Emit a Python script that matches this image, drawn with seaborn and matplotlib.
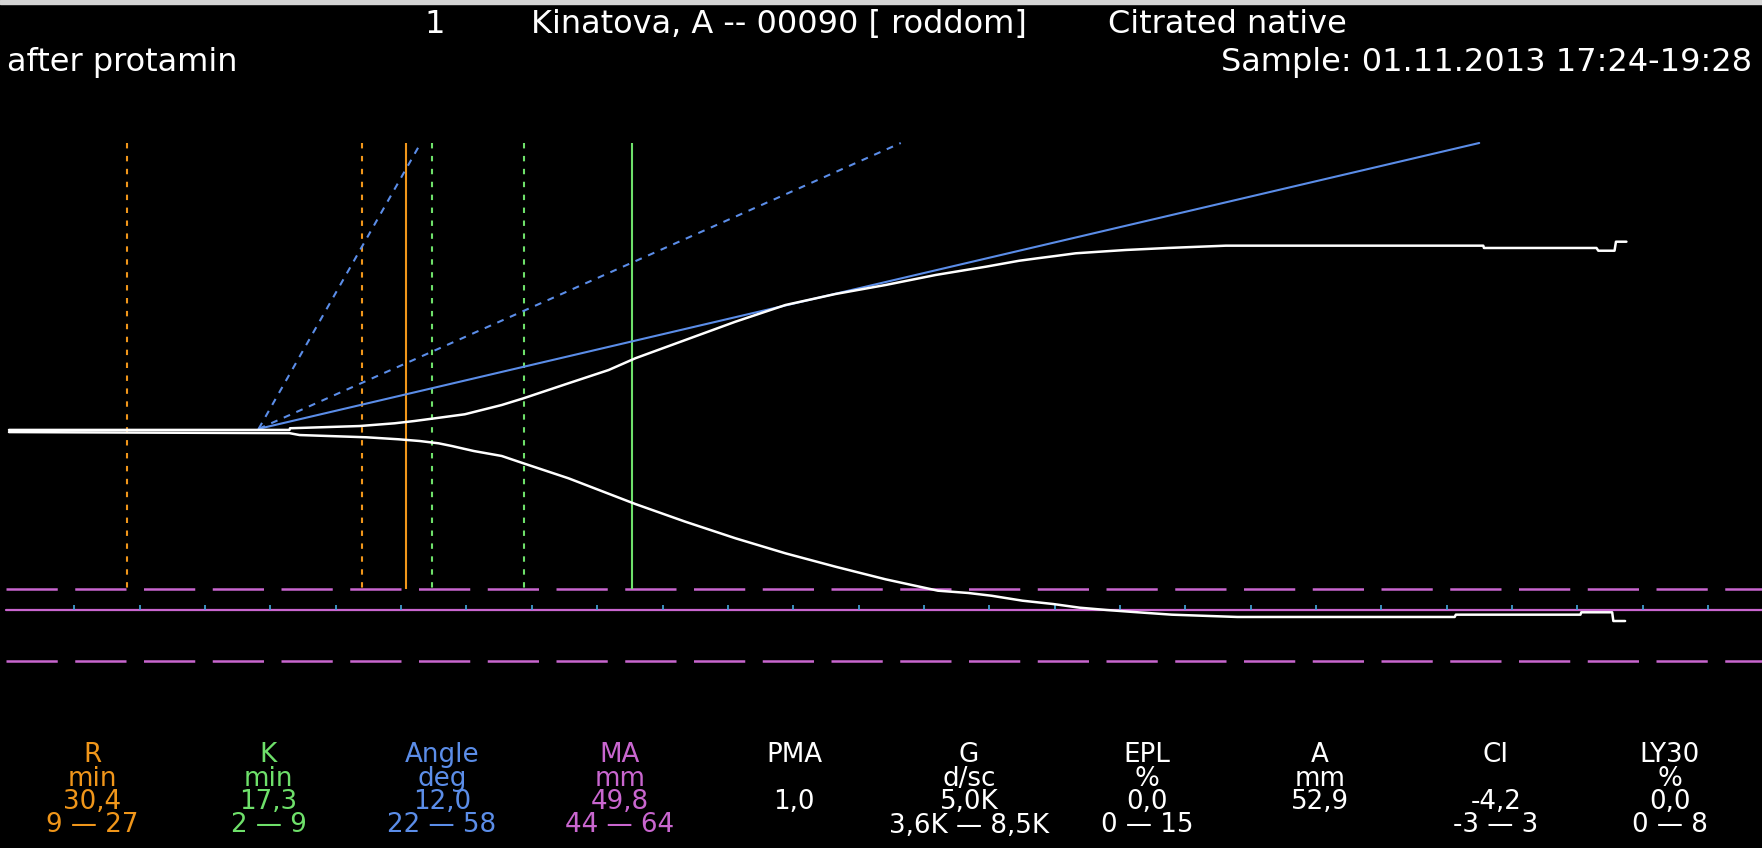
import numpy as np
import matplotlib
matplotlib.use("Agg")
import matplotlib.pyplot as plt
from matplotlib.patches import Rectangle
import seaborn as sns

# ---------------- header texts ----------------
channel = "1"
patient = "Kinatova, A -- 00090 [ roddom]"
sample_type = "Citrated native"
comment = "after protamin"
sample_time = "Sample: 01.11.2013 17:24-19:28"

# ---------------- parameter table ----------------
param_names = ["R", "K", "Angle", "MA", "PMA", "G", "EPL", "A", "CI", "LY30"]
param_units = ["min", "min", "deg", "mm", "", "d/sc", "%", "mm", "", "%"]
param_values = ["30,4", "17,3", "12,0", "49,8", "1,0", "5,0K", "0,0", "52,9", "-4,2", "0,0"]
param_ranges = ["9 — 27", "2 — 9", "22 — 58", "44 — 64", "", "3,6K — 8,5K",
                "0 — 15", "", "-3 — 3", "0 — 8"]

# numeric parameters used for the marker lines
r_time = 30.4          # min
k_time = 17.3          # min
angle_deg = 12.0       # deg
ma_mm = 49.8           # mm
r_range = [9, 27]
k_range = [2, 9]
angle_range = [22, 58]
ma_range = [44, 64]

# origin of the angle construction (time min, branch offset mm)
angle_origin_t = 19.1
angle_origin_mm = 0.3

# ---------------- TEG trace (time in min, branch offset in mm) ----------------
upper_t = [0.0, 21.46, 21.5, 26.82, 29.5, 31.03, 32.57, 34.87, 37.7, 39.36,
           42.81, 45.88, 47.92, 51.75, 55.58, 59.41, 63.24, 67.07, 70.90, 74.74,
           77.30, 78.70, 80.08, 81.61, 83.42, 85.44, 88.66, 93.10, 112.8, 112.85,
           121.46, 121.6, 122.84, 122.95, 123.75]
upper_mm = [0.15, 0.15, 0.38, 0.69, 1.07, 1.39, 1.76, 2.32, 3.61, 4.54,
            6.63, 8.47, 10.10, 12.64, 15.18, 17.50, 19.03, 20.28, 21.67, 22.82,
            23.65, 23.99, 24.31, 24.68, 24.90, 25.14, 25.42, 25.74, 25.74, 25.42,
            25.42, 25.04, 25.04, 26.29, 26.29]

lower_t = [0.0, 21.46, 22.23, 27.36, 29.80, 31.42, 32.87, 33.87, 34.64, 35.56,
           37.70, 39.36, 42.81, 47.92, 51.75, 55.58, 59.41, 63.24, 67.07, 71.08,
           73.41, 75.17, 77.55, 79.89, 81.92, 83.98, 86.05, 88.97, 93.99, 110.61,
           110.7, 120.23, 120.3, 122.66, 122.75, 123.65]
lower_mm = [-0.15, -0.3, -0.56, -0.875, -1.15, -1.39, -1.71, -2.08, -2.40, -2.78,
            -3.47, -4.49, -6.57, -10.14, -12.60, -14.90, -16.99, -18.85, -20.60, -22.18,
            -22.50, -22.88, -23.57, -24.03, -24.54, -24.86, -25.14, -25.51, -25.83, -25.83,
            -25.51, -25.51, -25.18, -25.18, -26.39, -26.39]

# time ticks on the MA line (min)
tick_minutes = list(range(5, 131, 5))

# ---------------- colours ----------------
C_R = "#F0961A"
C_K = "#6EE06A"
C_ANGLE = "#5B8DE8"
C_MA = "#C966CF"
C_TICK = "#46A8E0"
C_WHITE = "white"
col_colors = [C_R, C_K, C_ANGLE, C_MA] + [C_WHITE] * 6

# ---------------- canvas geometry ----------------
W, H = 1762, 848
PX_PER_MIN = 13.07
PX_PER_MM = 7.2
X0_PX = 9.0          # pixel column of time zero
BASE_PX = 431.0      # pixel row of the baseline
TOP_MM = 40.0        # upper end of the marker lines
T_END = 134.5

sns.set_theme(style="dark", rc={"axes.facecolor": "black",
                                "figure.facecolor": "black",
                                "savefig.facecolor": "black"})
plt.rcParams["font.family"] = ["DejaVu Sans"]

fig = plt.figure(figsize=(W / 100, H / 100), dpi=100)
ax = fig.add_axes([0, 0, 1, 1])
ax.set_xlim(-X0_PX / PX_PER_MIN, (W - X0_PX) / PX_PER_MIN)
ax.set_ylim((BASE_PX - H) / PX_PER_MM, BASE_PX / PX_PER_MM)
ax.axis("off")

# MA lines: normal range dashed, measured MA solid
for ma in ma_range:
    sns.lineplot(x=[-0.2, T_END], y=[-ma / 2, -ma / 2], color=C_MA, lw=1.8,
                 linestyle=(0, (20.5, 7.0)), estimator=None, sort=False, ax=ax, zorder=2)
sns.lineplot(x=[-0.2, T_END], y=[-ma_mm / 2, -ma_mm / 2], color=C_MA, lw=1.6,
             estimator=None, sort=False, ax=ax, zorder=2)
ax.vlines(tick_minutes, -ma_mm / 2, -ma_mm / 2 + 0.8, colors=C_TICK, lw=1.2, zorder=3)

# R and K normal ranges (dashed) and measured values (solid)
dash_v = (0, (2.6, 3.6))
bottom = -ma_range[0] / 2
ax.vlines(r_range, TOP_MM, bottom, colors=C_R, lw=1.5, linestyles=[dash_v], zorder=3)
ax.vlines([r_time], TOP_MM, bottom, colors=C_R, lw=1.5, zorder=3)
ax.vlines([r_time + k for k in k_range], TOP_MM, bottom, colors=C_K, lw=1.5,
          linestyles=[dash_v], zorder=3)
ax.vlines([r_time + k_time], TOP_MM, bottom, colors=C_K, lw=1.5, zorder=3)

# angle lines: slope of a branch is 2*tan(angle) mm per minute
def angle_line(deg, style):
    slope = 2.0 * np.tan(np.radians(deg))
    t_end = angle_origin_t + (TOP_MM - angle_origin_mm) / slope
    sns.lineplot(x=[angle_origin_t, t_end], y=[angle_origin_mm, TOP_MM],
                 color=C_ANGLE, lw=1.5, linestyle=style, estimator=None,
                 sort=False, ax=ax, zorder=4)

for a in angle_range:
    angle_line(a, (0, (3.3, 3.3)))
angle_line(angle_deg, "-")

# trace
sns.lineplot(x=upper_t, y=upper_mm, color=C_WHITE, lw=1.8, estimator=None,
             sort=False, ax=ax, zorder=5)
sns.lineplot(x=lower_t, y=lower_mm, color=C_WHITE, lw=1.8, estimator=None,
             sort=False, ax=ax, zorder=5)

# ---------------- texts ----------------
def put(x_px, base_px, s, color=C_WHITE, size=23, ha="center"):
    fig.text(x_px / W, 1 - base_px / H, s, color=color, fontsize=size,
             ha=ha, va="baseline")

put(435, 33, channel)
put(779, 33, patient)
put(1227, 33, sample_type)
put(7, 71, comment, ha="left")
put(1752, 71, sample_time, ha="right")

col_x = [92, 268.5, 442, 620, 794, 969, 1147, 1320, 1496, 1670]
row_base = [762, 785.5, 809, 832.5]
for i, x in enumerate(col_x):
    for row, txt in zip(row_base, [param_names[i], param_units[i],
                                   param_values[i], param_ranges[i]]):
        if txt:
            put(x, row, txt, color=col_colors[i], size=18.8)

# light strip along the upper edge
fig.patches.append(Rectangle((0, 1 - 4 / H), 1, 4 / H, transform=fig.transFigure,
                             color="#d4d4d4", zorder=10))

fig.savefig("out.png", dpi=100, facecolor="black")
